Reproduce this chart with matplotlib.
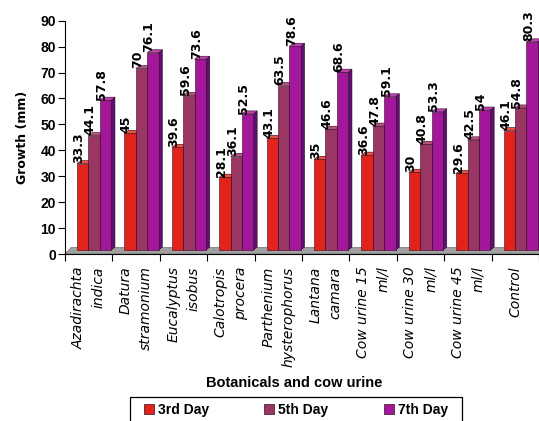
import matplotlib
matplotlib.use("Agg")
import matplotlib.pyplot as plt
from matplotlib.patches import Polygon, Rectangle, Patch

# 處理組別與三個觀測日的生長量 (mm)
groups = ["Azadirachta\nindica", "Datura\nstramonium", "Eucalyptus\nisobus",
          "Calotropis\nprocera", "Parthenium\nhysterophorus", "Lantana\ncamara",
          "Cow urine 15\nml/l", "Cow urine 30\nml/l", "Cow urine 45\nml/l", "Control"]
day3 = [33.3, 45, 39.6, 28.1, 43.1, 35, 36.6, 30, 29.6, 46.1]
day5 = [44.1, 70, 59.6, 36.1, 63.5, 46.6, 47.8, 40.8, 42.5, 54.8]
day7 = [57.8, 76.1, 73.6, 52.5, 78.6, 68.6, 59.1, 53.3, 54, 80.3]
series_names = ["3rd Day", "5th Day", "7th Day"]
yticks = list(range(0, 100, 10))

# 正面、側面、頂面顏色
front = ["#e2231c", "#9a3664", "#a3189a"]
side = ["#9c1410", "#62203e", "#5c1070"]
top = ["#f05040", "#b8507e", "#c040b4"]

bold = "Liberation Sans"

fig = plt.figure(figsize=(5.39, 4.21), dpi=100)
ax = fig.add_axes([65 / 539, 1 - 254 / 421, 474 / 539, (254 - 20.7) / 421])

w = 0.24
offs = [-0.246, -0.006, 0.234]
lift = 1.5
dx, dy = 0.08, 1.2

# 底板
floor = Polygon([(-0.5, 0), (9.6, 0), (9.6 + 0.13, 2.5), (-0.5 + 0.13, 2.5)],
                closed=True, facecolor="#a0a0a0", edgecolor="#707070", lw=0.5,
                zorder=1, clip_on=False)
ax.add_patch(floor)

for k, vals in enumerate([day3, day5, day7]):
    xs = [i + offs[k] for i in range(len(vals))]
    ax.bar(xs, vals, width=w, bottom=lift, align="edge", color=front[k],
           edgecolor="#3a0a20", linewidth=0.4, zorder=3 + 2 * k, clip_on=False)
    for x, v in zip(xs, vals):
        t = lift + v
        ax.add_patch(Polygon([(x + w, lift), (x + w + dx, lift + dy), (x + w + dx, t + dy), (x + w, t)],
                             closed=True, facecolor=side[k], edgecolor="#2a0a20", lw=0.4,
                             zorder=2 + 2 * k, clip_on=False))
        ax.add_patch(Polygon([(x, t), (x + dx, t + dy), (x + w + dx, t + dy), (x + w, t)],
                             closed=True, facecolor=top[k], edgecolor="#2a0a20", lw=0.4,
                             zorder=3 + 2 * k, clip_on=False))
        ax.text(x + w / 2 - 0.08, t + 0.2, f"{v:g}", rotation=90, ha="center", va="bottom",
                fontsize=9, fontweight="bold", family="DejaVu Sans", zorder=10, clip_on=False)

ax.set_xlim(-0.5, 9.5)
ax.set_ylim(0, 90)
ax.set_yticks(yticks)
ax.set_yticklabels([str(t) for t in yticks], fontsize=10, fontweight="bold", family=bold)
ax.tick_params(axis="y", length=5, width=0.8, pad=1.5)

ax.set_xticks([i - 0.5 for i in range(len(groups) + 1)])
ax.set_xticklabels([])
ax.tick_params(axis="x", which="major", length=5, width=0.8)
ax.set_xticks(range(len(groups)), minor=True)
ax.set_xticklabels(groups, minor=True, rotation=90, ha="center", va="top",
                   multialignment="right", fontsize=10, style="italic",
                   family="DejaVu Sans", linespacing=1.55)
ax.tick_params(axis="x", which="minor", length=0, pad=9)

for s in ["top", "right"]:
    ax.spines[s].set_visible(False)
ax.spines["left"].set_linewidth(0.8)
ax.spines["bottom"].set_linewidth(0.8)
ax.set_facecolor("none")

ax.set_ylabel("Growth (mm)", fontsize=9, fontweight="bold", family="DejaVu Sans", labelpad=8)
fig.text(294 / 539, 1 - 383 / 421, "Botanicals and cow urine", ha="center", va="center",
         fontsize=10.5, fontweight="bold", family=bold)

# 圖例
fig.patches.append(Rectangle((130 / 539, -0.02), 332 / 539, 0.02 + 1 - 397 / 421,
                             transform=fig.transFigure, facecolor="white",
                             edgecolor="black", lw=0.9))
handles = [Patch(facecolor=front[k], edgecolor="#3a0a20", lw=0.5) for k in range(3)]
fig.legend(handles, series_names, loc="center", bbox_to_anchor=(296 / 539, 1 - 410 / 421),
           ncol=3, frameon=False, handlelength=0.7, handleheight=0.7, handletextpad=0.3,
           columnspacing=4.0, prop={"family": bold, "weight": "bold", "size": 10})

fig.savefig("out.png", dpi=100)
